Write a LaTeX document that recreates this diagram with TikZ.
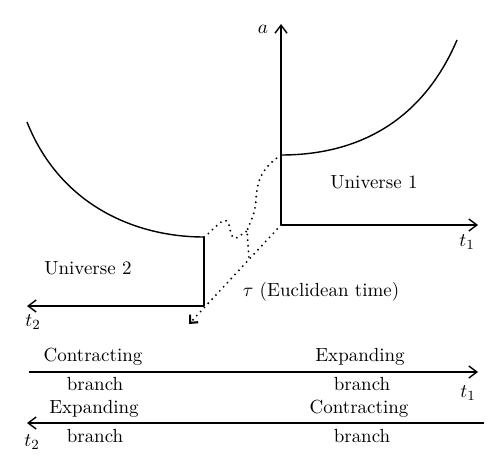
\documentclass[tikz,border=0pt]{standalone}
\usepackage{tikz}
\usetikzlibrary{positioning, arrows.meta, calc}
\tikzset{
    base/.style={
        font=\fontsize{10.8}{12}\selectfont,
        inner sep=1pt
    },
    axis/.style={
        -{Straight Barb[length=1.6mm, width=2.4mm]},
        line width=0.8pt
    },
    branch/.style={
        line width=0.8pt
    },
    tunnel/.style={
        line width=1.2pt,
        dash pattern=on 0pt off 3.2pt,
        line cap=round
    },
    label/.style={
        base
    }
}

\begin{document}
\begin{tikzpicture}[x=0.02cm, y=-0.02cm]
  \useasboundingbox (0,0) rectangle (500,473);

  % Universe 1
  \coordinate (O1) at (281,225);
  \coordinate (aTip) at (281,24);
  \coordinate (t1Tip) at (478,225);
  \coordinate (U1min) at (281,155);
  \draw[axis] (O1) -- (aTip);
  \draw[axis] (O1) -- (t1Tip);
  \draw[branch] (U1min) .. controls (365,155) and (425,115) .. (457,40);
  \node[label] (aLab) at (263,29) {$a$};
  \node[label] (t1Lab) at (467,242) {$t_1$};
  \node[label] (uni1) at (374,182) {Universe 1};

  % Universe 2
  \coordinate (O2) at (204,306);
  \coordinate (U2min) at (204,237);
  \coordinate (t2Tip) at (27,306);
  \draw[branch] (O2) -- (U2min);
  \draw[axis] (O2) -- (t2Tip);
  \draw[branch] (U2min) .. controls (135,237) and (60,205) .. (27,122);
  \node[label] (t2Lab) at (33,322) {$t_2$};
  \node[label] (uni2) at (88,268) {Universe 2};

  % Euclidean time
  \coordinate (tauTip) at (189,324);
  \coordinate (J) at (247,231);
  \coordinate (M) at (249,259);
  \draw[tunnel, -{Straight Barb[length=1.2mm, width=2.2mm]}] (O1) -- (tauTip);
  \draw[tunnel] (U1min) .. controls (262,168) and (257,180) .. (256,200)
      .. controls (255,215) and (250,222) .. (J) -- (M);
  \draw[tunnel] (U2min) .. controls (214,230) and (226,212) .. (229,225)
      .. controls (231,235) and (233,241) .. (238,237) -- (J);
  \node[label] (tau) at (321,292) {$\tau$ (Euclidean time)};

  % Branches
  \coordinate (b1s) at (29,372);
  \coordinate (b1e) at (478,372);
  \coordinate (b2s) at (484,423);
  \coordinate (b2e) at (27,423);
  \draw[axis] (b1s) -- (b1e);
  \draw[axis] (b2s) -- (b2e);
  \node[label] (c1) at (93,357) {Contracting};
  \node[label] (c1b) at (95,384) {branch};
  \node[label] (e1) at (360,357) {Expanding};
  \node[label] (e1b) at (362,384) {branch};
  \node[label] (t1b) at (468,393) {$t_1$};
  \node[label] (e2) at (94,409) {Expanding};
  \node[label] (e2b) at (95,436) {branch};
  \node[label] (c2) at (359,409) {Contracting};
  \node[label] (c2b) at (362,436) {branch};
  \node[label] (t2b) at (32,442) {$t_2$};

\end{tikzpicture}
\end{document}
